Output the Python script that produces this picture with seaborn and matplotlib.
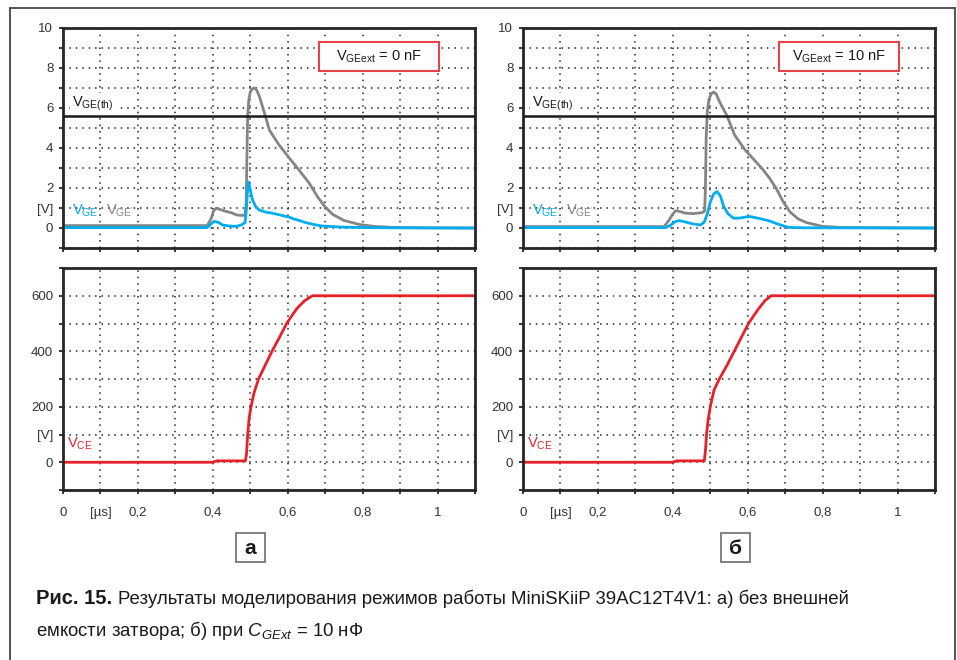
import numpy as np
import pandas as pd
import matplotlib
import matplotlib.pyplot as plt
import seaborn as sns
from matplotlib.patches import Rectangle
from matplotlib.lines import Line2D

# time axis, microseconds
# panel a: V_GE (blue), V_GE' (gray)
t_ge_a = [0, 0.385, 0.395, 0.404, 0.415, 0.426, 0.445, 0.462, 0.476, 0.486, 0.490, 0.493, 0.496,
          0.500, 0.506, 0.515, 0.524, 0.540, 0.559, 0.580, 0.595, 0.602, 0.612, 0.630, 0.648,
          0.670, 0.692, 0.75, 0.85, 1.1]
v_ge_a = [0.02, 0.02, 0.2, 0.33, 0.28, 0.15, 0.1, 0.08, 0.15, 0.27, 1.0, 2.0, 2.3,
          1.9, 1.4, 1.05, 0.9, 0.8, 0.74, 0.65, 0.58, 0.56, 0.48, 0.38, 0.27,
          0.17, 0.1, 0.04, 0.01, 0.0]
t_ge2_a = [0, 0.385, 0.395, 0.402, 0.409, 0.42, 0.435, 0.45, 0.462, 0.475, 0.486, 0.489, 0.491,
           0.493, 0.496, 0.500, 0.505, 0.511, 0.517, 0.524, 0.537, 0.551, 0.575, 0.604, 0.630,
           0.657, 0.680, 0.700, 0.720, 0.750, 0.790, 0.830, 0.880, 0.950, 1.1]
v_ge2_a = [0.12, 0.12, 0.45, 0.85, 0.99, 0.92, 0.83, 0.76, 0.66, 0.63, 0.64, 1.2, 3.5,
           5.6, 6.4, 6.8, 6.95, 7.0, 6.9, 6.6, 5.8, 4.9, 4.2, 3.5, 2.9,
           2.25, 1.55, 1.05, 0.68, 0.38, 0.18, 0.08, 0.03, 0.01, 0.0]

# panel b
t_ge_b = [0, 0.381, 0.395, 0.405, 0.416, 0.430, 0.450, 0.474, 0.484, 0.492, 0.500, 0.509, 0.518,
          0.527, 0.536, 0.548, 0.562, 0.580, 0.595, 0.607, 0.625, 0.655, 0.680, 0.708, 0.75, 1.1]
v_ge_b = [0.02, 0.02, 0.15, 0.3, 0.37, 0.32, 0.22, 0.15, 0.3, 0.7, 1.3, 1.7, 1.82,
          1.6, 1.07, 0.7, 0.49, 0.5, 0.55, 0.57, 0.5, 0.37, 0.2, 0.03, 0.01, 0.0]
t_ge2_b = [0, 0.377, 0.390, 0.400, 0.408, 0.420, 0.434, 0.455, 0.478, 0.485, 0.487, 0.489,
           0.492, 0.496, 0.502, 0.509, 0.516, 0.525, 0.545, 0.565, 0.593, 0.615, 0.637, 0.658,
           0.677, 0.695, 0.713, 0.735, 0.757, 0.800, 0.860, 1.1]
v_ge2_b = [0.07, 0.07, 0.4, 0.7, 0.87, 0.82, 0.74, 0.72, 0.77, 0.85, 2.0, 4.5,
           5.8, 6.4, 6.7, 6.8, 6.7, 6.3, 5.6, 4.65, 3.9, 3.45, 3.0, 2.5,
           1.95, 1.3, 0.8, 0.45, 0.27, 0.08, 0.02, 0.0]

# V_CE
t_ce_a = [0, 0.40, 0.41, 0.487, 0.490, 0.493, 0.497, 0.502, 0.510, 0.522, 0.540, 0.558,
          0.578, 0.597, 0.612, 0.625, 0.645, 0.666, 1.1]
v_ce_a = [0, 0, 5, 5, 30, 100, 160, 200, 250, 300, 350, 400, 450, 500, 530, 555, 582, 600, 600]
t_ce_b = [0, 0.40, 0.41, 0.484, 0.487, 0.490, 0.494, 0.500, 0.510, 0.524, 0.545, 0.564,
          0.583, 0.602, 0.617, 0.630, 0.646, 0.662, 1.1]
v_ce_b = [0, 0, 5, 5, 40, 100, 150, 200, 260, 300, 350, 400, 450, 500, 530, 555, 582, 600, 600]

v_th = 5.6
ext_labels = ['0 nF', '10 nF']

x_ticks = [0, 0.1, 0.2, 0.3, 0.4, 0.5, 0.6, 0.7, 0.8, 0.9, 1.0, 1.1]
x_ticklabels = ['0', '[µs]', '0,2', '', '0,4', '', '0,6', '', '0,8', '', '1', '']
ge_ticks = list(range(-1, 11))
ge_ticklabels = ['', '0', '[V]', '2', '', '4', '', '6', '', '8', '', '10']
ce_ticks = list(range(-100, 701, 100))
ce_ticklabels = ['', '0', '[V]', '200', '', '400', '', '600', '']

BLUE = '#00aeef'
GRAY = '#858585'
RED = '#e8202a'
INK = '#262626'

sns.set_style('white')
plt.rcParams['font.family'] = ['Liberation Sans', 'DejaVu Sans']
plt.rcParams['mathtext.fontset'] = 'custom'
plt.rcParams['mathtext.rm'] = 'Liberation Sans'
plt.rcParams['mathtext.it'] = 'Liberation Sans:italic'

W, H = 957, 660
fig = plt.figure(figsize=(W / 100, H / 100), dpi=100)


def px_axes(x0, y0, x1, y1):
    return fig.add_axes([x0 / W, 1 - y1 / H, (x1 - x0) / W, (y1 - y0) / H])


def style_axes(ax, yticks, ylabels, ylim, show_x):
    ax.set_xlim(0, 1.1)
    ax.set_ylim(*ylim)
    ax.set_xticks(x_ticks)
    ax.set_xticklabels(x_ticklabels if show_x else [''] * len(x_ticks))
    ax.set_yticks(yticks)
    ax.set_yticklabels(ylabels)
    ax.grid(True, color=INK, linestyle=(0, (1, 3.2)), linewidth=1.1)
    ax.set_axisbelow(True)
    for s in ax.spines.values():
        s.set_color(INK)
        s.set_linewidth(2)
    ax.tick_params(axis='y', length=3, width=1.3, color=INK, labelsize=9.5,
                   labelcolor='#333333', pad=4, left=True)
    ax.tick_params(axis='x', length=3, width=1.3, color=INK, labelsize=9.5,
                   labelcolor='#333333', pad=9, bottom=True)
    ax.set_xlabel('')
    ax.set_ylabel('')


panels = [
    (63, t_ge_a, v_ge_a, t_ge2_a, v_ge2_a, t_ce_a, v_ce_a, ext_labels[0]),
    (523, t_ge_b, v_ge_b, t_ge2_b, v_ge2_b, t_ce_b, v_ce_b, ext_labels[1]),
]

for x0, tg, vg, tg2, vg2, tc, vc, ext in panels:
    ax1 = px_axes(x0, 28, x0 + 412, 248)
    sns.lineplot(x=tg2, y=vg2, ax=ax1, color=GRAY, linewidth=2.0, estimator=None, sort=False)
    sns.lineplot(x=tg, y=vg, ax=ax1, color=BLUE, linewidth=2.0, estimator=None, sort=False)
    ax1.axhline(v_th, color='#1a1a1a', linewidth=1.8, zorder=5)
    style_axes(ax1, ge_ticks, ge_ticklabels, (-1, 10), False)
    ax1.text(0.024, 6.2, r'V$_{\mathregular{GE(th)}}$', fontsize=10.5, color='#1a1a1a',
             va='center', ha='left', zorder=6,
             bbox=dict(boxstyle='square,pad=0.15', fc='white', ec='none'))
    ax1.text(0.024, 0.88, r'V$_{\mathregular{GE}}$', fontsize=10.5, color=BLUE,
             va='center', ha='left', zorder=6)
    ax1.text(0.115, 0.88, r"V$_{\mathregular{GE'}}$", fontsize=10.5, color=GRAY,
             va='center', ha='left', zorder=6)
    ax1.add_patch(Rectangle((0.684, 7.84), 0.32, 1.44, fc='white', ec='#e8414a',
                            linewidth=1.5, zorder=6))
    ax1.text(0.844, 8.56, r'V$_{\mathregular{GEext}}$ = ' + ext, fontsize=10.5,
             color='#1a1a1a', ha='center', va='center', zorder=7)

    ax2 = px_axes(x0, 268, x0 + 412, 490)
    sns.lineplot(x=tc, y=vc, ax=ax2, color=RED, linewidth=2.0, estimator=None, sort=False)
    style_axes(ax2, ce_ticks, ce_ticklabels, (-100, 700), True)
    ax2.text(0.012, 65, r'V$_{\mathregular{CE}}$', fontsize=10.5, color=RED,
             va='center', ha='left', zorder=6)

# outer frame (open at bottom)
frame_kw = dict(transform=fig.transFigure, color='#444444', linewidth=1.3)
fig.add_artist(Line2D([10 / W, 10 / W], [0, 1 - 8 / H], **frame_kw))
fig.add_artist(Line2D([10 / W, 955 / W], [1 - 8 / H, 1 - 8 / H], **frame_kw))
fig.add_artist(Line2D([955 / W, 955 / W], [0, 1 - 8 / H], **frame_kw))

# sub-figure letters
cap_font = ['Liberation Sans', 'DejaVu Sans']
for cx, letter in [(250, 'а'), (735, 'б')]:
    fig.add_artist(Rectangle(((cx - 14.5) / W, 1 - 562 / H), 29 / W, 29 / H,
                             transform=fig.transFigure, fc='white', ec='#777777', linewidth=1.3))
    fig.text(cx / W, 1 - 548 / H, letter, fontsize=15, fontweight='bold', family=cap_font,
             color='#1a1a1a', ha='center', va='center')

# caption
renderer = fig.canvas.get_renderer()
bold = fig.text(36 / W, 1 - 604 / H, 'Рис. 15.', fontsize=14.5, fontweight='bold',
                family=cap_font, color='#1a1a1a', va='baseline')
bb = bold.get_window_extent(renderer)
fig.text((bb.x1 + 6) / W, 1 - 604 / H,
         'Результаты моделирования режимов работы MiniSKiiP 39AC12T4V1: а) без внешней',
         fontsize=13.4, family=cap_font, color='#1a1a1a', va='baseline')
fig.text(36 / W, 1 - 636 / H,
         r'емкости затвора; б) при $\mathit{C}_{\mathit{GExt}}$ = 10 нФ',
         fontsize=13.4, family=cap_font, color='#1a1a1a', va='baseline')

fig.savefig('out.png', dpi=100, facecolor='white')
